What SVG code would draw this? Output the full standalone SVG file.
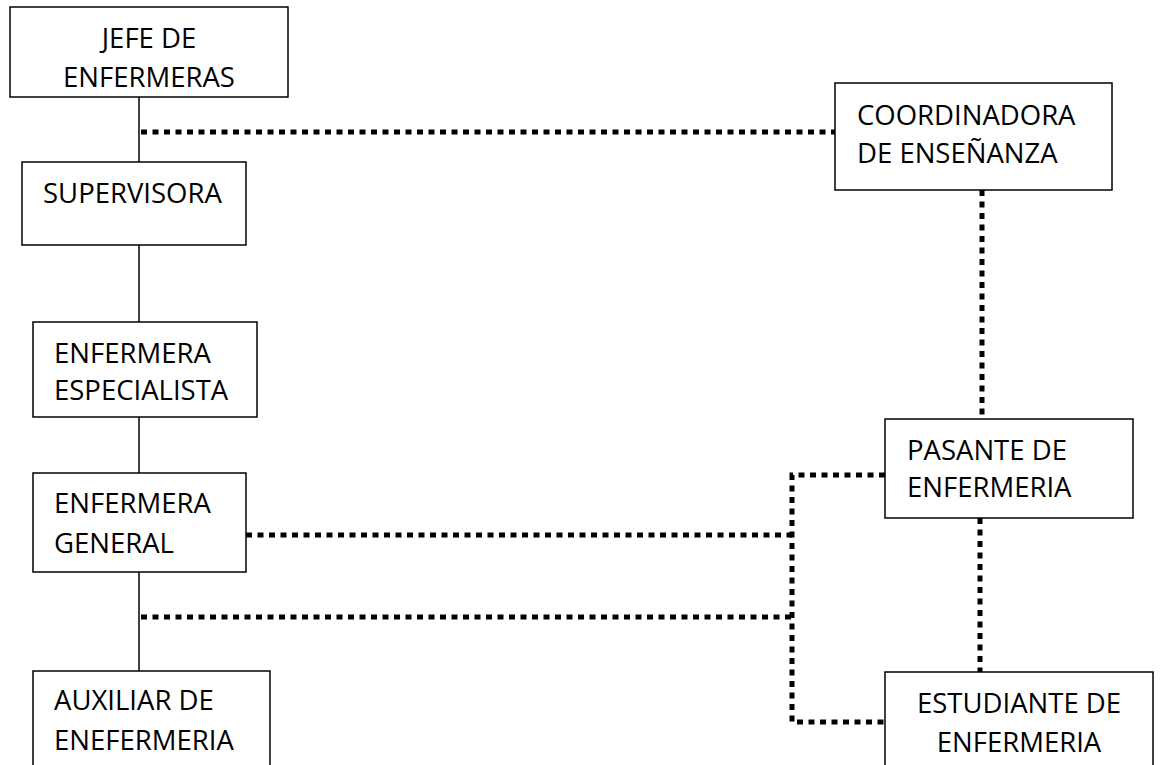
<svg xmlns="http://www.w3.org/2000/svg" width="1160" height="765" viewBox="0 0 1160 765">
  <style>
    .box { fill: #ffffff; stroke: #000000; stroke-width: 1.5; }
    .solid { fill: none; stroke: #000000; stroke-width: 1.5; }
    .dot { fill: none; stroke: #000000; stroke-width: 5; stroke-dasharray: 6 5.5; }
    .t { font-family: "Open Sans", "Liberation Sans", sans-serif; font-size: 27.5px; fill: #000000; }
    .c { text-anchor: middle; }
  </style>
  <rect width="1160" height="765" fill="#ffffff"/>
  <g id="connectors">
    <line class="solid" x1="139" y1="97" x2="139" y2="162"/>
    <line class="solid" x1="139" y1="245" x2="139" y2="322"/>
    <line class="solid" x1="139" y1="417" x2="139" y2="473"/>
    <line class="solid" x1="139" y1="572" x2="139" y2="671"/>
    <line class="dot" x1="141" y1="132" x2="835" y2="132"/>
    <line class="dot" x1="982" y1="190" x2="982" y2="419"/>
    <line class="dot" x1="980" y1="518" x2="980" y2="672"/>
    <line class="dot" x1="246" y1="535" x2="792" y2="535"/>
    <line class="dot" x1="141" y1="617" x2="792" y2="617"/>
    <polyline class="dot" points="885,475 792,475 792,722 885,722"/>
  </g>
  <g id="jefe">
    <rect class="box" x="10" y="7" width="278" height="90"/>
    <text class="t c" x="149" y="48">JEFE DE</text>
    <text class="t c" x="149" y="87">ENFERMERAS</text>
  </g>
  <g id="supervisora">
    <rect class="box" x="22" y="162" width="224" height="83"/>
    <text class="t" x="43" y="203">SUPERVISORA</text>
  </g>
  <g id="especialista">
    <rect class="box" x="33" y="322" width="224" height="95"/>
    <text class="t" x="54" y="363">ENFERMERA</text>
    <text class="t" x="54" y="400">ESPECIALISTA</text>
  </g>
  <g id="general">
    <rect class="box" x="33" y="473" width="213" height="99"/>
    <text class="t" x="54" y="513">ENFERMERA</text>
    <text class="t" x="54" y="553">GENERAL</text>
  </g>
  <g id="auxiliar">
    <rect class="box" x="33" y="671" width="237" height="110"/>
    <text class="t" x="54" y="710">AUXILIAR DE</text>
    <text class="t" x="54" y="750">ENEFERMERIA</text>
  </g>
  <g id="coordinadora">
    <rect class="box" x="835" y="83" width="277" height="107"/>
    <text class="t" x="857" y="125">COORDINADORA</text>
    <text class="t" x="857" y="163">DE ENSEÑANZA</text>
  </g>
  <g id="pasante">
    <rect class="box" x="885" y="419" width="248" height="99"/>
    <text class="t" x="907" y="460">PASANTE DE</text>
    <text class="t" x="907" y="497">ENFERMERIA</text>
  </g>
  <g id="estudiante">
    <rect class="box" x="885" y="672" width="268" height="110"/>
    <text class="t c" x="1019" y="713">ESTUDIANTE DE</text>
    <text class="t c" x="1019" y="752">ENFERMERIA</text>
  </g>
</svg>
